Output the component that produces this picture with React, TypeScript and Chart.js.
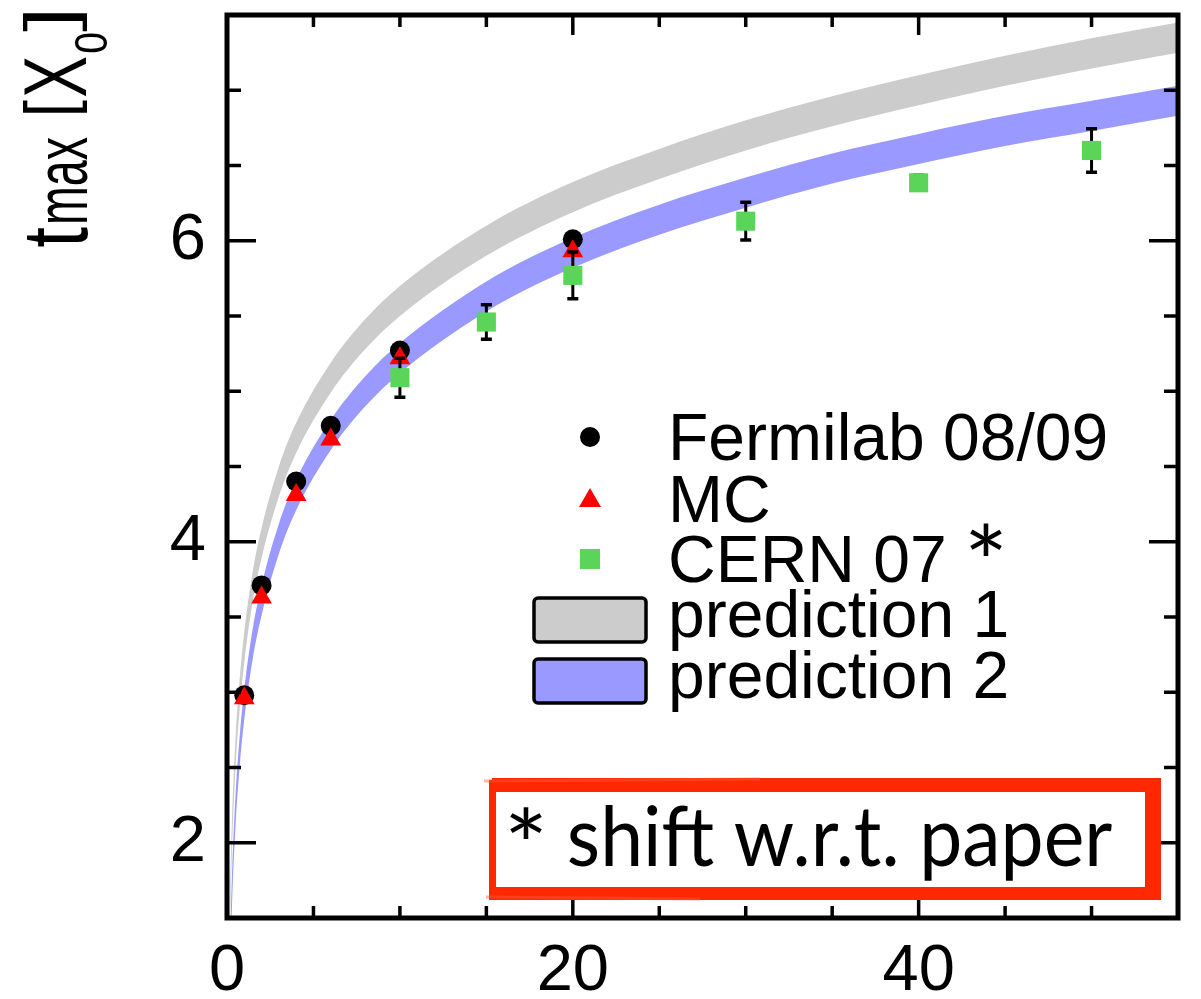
import React, { useEffect, useRef } from 'react';
import { Chart, registerables } from 'chart.js';

Chart.register(...registerables);

// ---------------- data ----------------
const xTickLabels = [0, 20, 40];
const yTickLabels = [2, 4, 6];

const fermilabX = [1, 2, 4, 6, 10, 20];
const fermilabY = [2.98, 3.71, 4.4, 4.77, 5.27, 6.01];

const mcX = [1, 2, 4, 6, 10, 20];
const mcY = [2.96, 3.63, 4.31, 4.68, 5.22, 5.93];

const cernX = [10, 15, 20, 30, 40, 50];
const cernY = [5.09, 5.46, 5.77, 6.13, 6.385, 6.6];
const cernErr = [0.13, 0.115, 0.155, 0.125, 0.05, 0.145];

const bandX = [0.1, 0.15, 0.2, 0.3, 0.5, 0.75, 1, 1.5, 2, 3, 4, 6, 8, 10, 15, 20, 25, 30, 35, 40, 45, 50, 55];
const pred1Low = [0.9, 1.3, 1.59, 2.0, 2.51, 2.91, 3.2, 3.61, 3.89, 4.3, 4.59, 4.99, 5.28, 5.5, 5.9, 6.19, 6.41, 6.6, 6.76, 6.9, 7.03, 7.145, 7.25];
const pred1High = [1.1, 1.5, 1.79, 2.2, 2.71, 3.11, 3.4, 3.81, 4.09, 4.5, 4.79, 5.19, 5.48, 5.7, 6.1, 6.39, 6.61, 6.8, 6.96, 7.1, 7.23, 7.345, 7.45];
const pred2Low = [0.52, 0.92, 1.21, 1.62, 2.13, 2.53, 2.82, 3.23, 3.51, 3.92, 4.21, 4.61, 4.9, 5.12, 5.53, 5.82, 6.04, 6.22, 6.38, 6.51, 6.63, 6.73, 6.83];
const pred2High = [0.72, 1.12, 1.41, 1.82, 2.33, 2.73, 3.02, 3.43, 3.71, 4.12, 4.41, 4.81, 5.1, 5.32, 5.73, 6.02, 6.24, 6.42, 6.58, 6.71, 6.83, 6.93, 7.03];

const legendLabels = ['Fermilab 08/09', 'MC', 'CERN 07', 'prediction 1', 'prediction 2'];
const noteText = 'shift w.r.t. paper';

// ---------------- styles ----------------
const SANS = '"Liberation Sans", Arial, Helvetica, sans-serif';
const GILL = 'Lato, "Open Sans", sans-serif';
const GRAY = '#cccccc';
const BLUE = '#9999ff';
const RED = '#ff0000';
const GREEN = '#5ad55a';
const NOTE_RED = '#ff2800';
const CERN_INDEX = 6;

function pts(xs: number[], ys: number[]) {
  return xs.map((x, i) => ({ x, y: ys[i] }));
}

// fit text ink into a box (non-rotated)
function fitText(ctx: CanvasRenderingContext2D, text: string, font: string, x0: number, y0: number, x1: number, y1: number) {
  ctx.save();
  ctx.font = font;
  ctx.textBaseline = 'alphabetic';
  ctx.textAlign = 'left';
  const m = ctx.measureText(text);
  const w = m.actualBoundingBoxLeft + m.actualBoundingBoxRight;
  const h = m.actualBoundingBoxAscent + m.actualBoundingBoxDescent;
  const sx = (x1 - x0) / w;
  const sy = (y1 - y0) / h;
  ctx.translate(x0, y0 + m.actualBoundingBoxAscent * sy);
  ctx.scale(sx, sy);
  ctx.fillText(text, m.actualBoundingBoxLeft, 0);
  ctx.restore();
}

// fit rotated (-90deg) text: reading from page-y yStart (bottom) up to yEnd; glyph tops at page x0, bottoms at x1
function fitRotated(ctx: CanvasRenderingContext2D, text: string, font: string, x0: number, x1: number, yEnd: number, yStart: number) {
  ctx.save();
  ctx.font = font;
  ctx.textBaseline = 'alphabetic';
  ctx.textAlign = 'left';
  const m = ctx.measureText(text);
  const w = m.actualBoundingBoxLeft + m.actualBoundingBoxRight;
  const h = m.actualBoundingBoxAscent + m.actualBoundingBoxDescent;
  const sx = (yStart - yEnd) / w;
  const sy = (x1 - x0) / h;
  ctx.translate(x0 + m.actualBoundingBoxAscent * sy, yStart);
  ctx.rotate(-Math.PI / 2);
  ctx.scale(sx, sy);
  ctx.fillText(text, m.actualBoundingBoxLeft, 0);
  ctx.restore();
}

const errorBarPlugin = {
  id: 'cernErrorBars',
  beforeDatasetDraw(chart: any, args: any) {
    if (args.index !== CERN_INDEX) return;
    const ctx = chart.ctx as CanvasRenderingContext2D;
    const xs = chart.scales.x;
    const ys = chart.scales.y;
    ctx.save();
    ctx.strokeStyle = '#000';
    cernX.forEach((x, i) => {
      const px = xs.getPixelForValue(x);
      const yt = ys.getPixelForValue(cernY[i] + cernErr[i]);
      const yb = ys.getPixelForValue(cernY[i] - cernErr[i]);
      ctx.lineWidth = 3;
      ctx.beginPath();
      ctx.moveTo(px, yb);
      ctx.lineTo(px, yt);
      ctx.stroke();
      ctx.lineWidth = 3.5;
      ctx.beginPath();
      ctx.moveTo(px - 5.5, yt);
      ctx.lineTo(px + 5.5, yt);
      ctx.moveTo(px - 5.5, yb);
      ctx.lineTo(px + 5.5, yb);
      ctx.stroke();
    });
    ctx.restore();
  },
};

const framePlugin = {
  id: 'frameTicks',
  afterDatasetsDraw(chart: any) {
    const ctx = chart.ctx as CanvasRenderingContext2D;
    const { left, right, top, bottom } = chart.chartArea;
    const xs = chart.scales.x;
    const ys = chart.scales.y;
    ctx.save();
    ctx.strokeStyle = '#000';
    ctx.lineCap = 'butt';
    ctx.lineWidth = 3.5;
    ctx.beginPath();
    for (let v = 5; v < xs.max; v += 5) {
      const px = xs.getPixelForValue(v);
      const len = xTickLabels.includes(v) ? 20 : 12;
      ctx.moveTo(px, bottom);
      ctx.lineTo(px, bottom - len);
      ctx.moveTo(px, top);
      ctx.lineTo(px, top + len);
    }
    for (let k = 1; k * 0.5 + ys.min < ys.max; k++) {
      const v = ys.min + k * 0.5;
      const py = ys.getPixelForValue(v);
      const len = yTickLabels.includes(v) ? 29 : 14;
      ctx.moveTo(left, py);
      ctx.lineTo(left + len, py);
      ctx.moveTo(right, py);
      ctx.lineTo(right - len, py);
    }
    ctx.stroke();
    ctx.lineWidth = 5;
    ctx.strokeRect(left, top, right - left, bottom - top);
    ctx.restore();
  },
};

const decorPlugin = {
  id: 'decor',
  afterDraw(chart: any) {
    const ctx = chart.ctx as CanvasRenderingContext2D;
    ctx.save();
    // ---- y axis title: t_max [X_0]
    ctx.fillStyle = '#000';
    fitRotated(ctx, 't', `86px ${SANS}`, 28, 88, 227, 247);
    fitRotated(ctx, 'max', `80px ${SANS}`, 47, 88, 137, 222);
    fitRotated(ctx, '[', `86px ${SANS}`, 23, 87, 100, 113);
    fitRotated(ctx, 'X', `86px ${SANS}`, 25, 86, 57, 97);
    fitRotated(ctx, '0', `45px ${SANS}`, 75, 107, 33, 53);
    fitRotated(ctx, ']', `86px ${SANS}`, 23, 87, 13, 32);

    // ---- legend
    ctx.fillStyle = '#000';
    ctx.beginPath();
    ctx.arc(590, 437, 10, 0, Math.PI * 2);
    ctx.fill();
    ctx.fillStyle = RED;
    ctx.beginPath();
    ctx.moveTo(590, 488);
    ctx.lineTo(601, 507);
    ctx.lineTo(579, 507);
    ctx.closePath();
    ctx.fill();
    ctx.fillStyle = GREEN;
    ctx.fillRect(580, 549, 20, 20);
    const swatch = (y: number, color: string) => {
      ctx.beginPath();
      (ctx as any).roundRect(534, y, 112, 44, 4);
      ctx.fillStyle = color;
      ctx.fill();
      ctx.lineWidth = 3.5;
      ctx.strokeStyle = '#000';
      ctx.stroke();
    };
    swatch(598, GRAY);
    swatch(659, BLUE);
    ctx.fillStyle = '#000';
    ctx.font = `66px ${SANS}`;
    ctx.textBaseline = 'alphabetic';
    ctx.textAlign = 'left';
    const baselines = [460, 522, 582, 637, 698];
    legendLabels.forEach((t, i) => ctx.fillText(t, 668, baselines[i]));
    fitText(ctx, '*', `80px ${GILL}`, 969, 524, 1003, 557);

    // ---- note box
    ctx.fillStyle = '#ffffff';
    ctx.fillRect(495, 792, 650, 95);
    ctx.fillStyle = NOTE_RED;
    ctx.fillRect(492, 778, 669, 14);
    ctx.fillRect(489, 887, 672, 13);
    ctx.fillRect(489, 780, 7, 120);
    ctx.fillRect(1145, 778, 16, 122);
    ctx.strokeStyle = 'rgba(255,90,60,0.45)';
    ctx.lineWidth = 3;
    ctx.beginPath();
    ctx.moveTo(484, 781);
    ctx.lineTo(760, 779);
    ctx.moveTo(486, 897);
    ctx.lineTo(700, 899);
    ctx.stroke();
    ctx.fillStyle = '#000';
    fitText(ctx, '*', `80px ${GILL}`, 509, 808, 543, 840);
    fitText(ctx, noteText, `72px ${GILL}`, 569, 805, 1112, 880);
    ctx.restore();
  },
};

export default function App() {
  const ref = useRef<HTMLCanvasElement>(null);

  useEffect(() => {
    document.body.style.margin = '0';
    const canvas = ref.current!;
    const bandCommon = {
      showLine: true,
      pointRadius: 0,
      borderWidth: 0,
      borderColor: 'rgba(0,0,0,0)',
      cubicInterpolationMode: 'monotone' as const,
    };
    const zeroPad = (s: any) => {
      s.paddingTop = 0;
      s.paddingBottom = 0;
      s.paddingLeft = 0;
      s.paddingRight = 0;
    };
    const chart = new Chart(canvas, {
      type: 'scatter',
      data: {
        datasets: [
          { ...bandCommon, label: 'prediction 1 low', data: pts(bandX, pred1Low), fill: false, order: 6 },
          { ...bandCommon, label: 'prediction 1', data: pts(bandX, pred1High), fill: '-1', backgroundColor: GRAY, order: 5 },
          { ...bandCommon, label: 'prediction 2 low', data: pts(bandX, pred2Low), fill: false, order: 4 },
          { ...bandCommon, label: 'prediction 2', data: pts(bandX, pred2High), fill: '-1', backgroundColor: BLUE, order: 3 },
          {
            label: 'Fermilab 08/09',
            data: pts(fermilabX, fermilabY),
            pointStyle: 'circle',
            pointRadius: 10,
            backgroundColor: '#000',
            borderColor: '#000',
            borderWidth: 0,
            order: 2,
          },
          {
            label: 'MC',
            data: pts(mcX, mcY),
            pointStyle: 'triangle',
            pointRadius: 12,
            backgroundColor: RED,
            borderColor: RED,
            borderWidth: 0,
            order: 1,
          },
          {
            label: 'CERN 07',
            data: pts(cernX, cernY),
            pointStyle: 'rect',
            pointRadius: 13.5,
            backgroundColor: GREEN,
            borderColor: GREEN,
            borderWidth: 0,
            order: 0,
          },
        ],
      },
      options: {
        responsive: false,
        animation: false,
        devicePixelRatio: 1,
        events: [],
        layout: { padding: { left: 0, right: 23, top: 15, bottom: 0 } },
        plugins: {
          legend: { display: false },
          tooltip: { enabled: false },
          title: { display: false },
        },
        scales: {
          x: {
            type: 'linear',
            min: 0,
            max: 55,
            grid: { display: false, drawTicks: false },
            border: { display: false },
            ticks: {
              color: '#000',
              font: { family: SANS, size: 65 },
              padding: 15,
              maxRotation: 0,
              autoSkip: false,
            },
            afterBuildTicks: (s: any) => {
              s.ticks = xTickLabels.map((v) => ({ value: v }));
            },
            afterFit: (s: any) => {
              s.height = 81;
              zeroPad(s);
            },
          },
          y: {
            type: 'linear',
            min: 1.5,
            max: 7.5,
            grid: { display: false, drawTicks: false },
            border: { display: false },
            ticks: {
              color: '#000',
              font: { family: SANS, size: 65 },
              padding: 21,
              autoSkip: false,
            },
            afterBuildTicks: (s: any) => {
              s.ticks = yTickLabels.map((v) => ({ value: v }));
            },
            afterFit: (s: any) => {
              s.width = 227;
              zeroPad(s);
            },
          },
        },
      },
      plugins: [errorBarPlugin, framePlugin, decorPlugin],
    });
    return () => chart.destroy();
  }, []);

  return (
    <div style={{ width: 1201, height: 999, background: '#ffffff' }}>
      <canvas ref={ref} width={1201} height={999} style={{ display: 'block' }} />
    </div>
  );
}
